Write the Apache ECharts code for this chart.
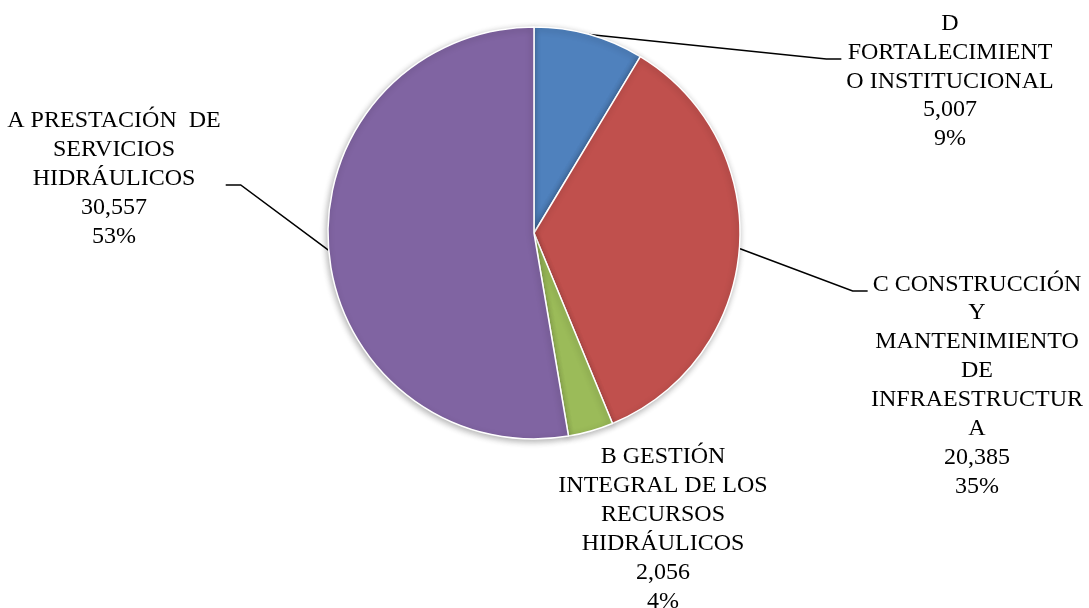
<!DOCTYPE html>
<html>
<head>
<meta charset="utf-8">
<script src="https://cdn.jsdelivr.net/npm/echarts@6/dist/echarts.min.js"></script>
<style>
html,body{margin:0;padding:0;background:#fff;}
#chart{width:1089px;height:608px;}
</style>
</head>
<body>
<div id="chart"></div>
<script>
// Categories (in drawing order, clockwise from 12 o'clock)
const categories = [
  'D FORTALECIMIENTO INSTITUCIONAL',
  'C CONSTRUCCIÓN Y MANTENIMIENTO DE INFRAESTRUCTURA',
  'B GESTIÓN INTEGRAL DE LOS RECURSOS HIDRÁULICOS',
  'A PRESTACIÓN DE SERVICIOS HIDRÁULICOS'
];
// Wrapped label text lines as shown in the chart
const labelText = [
  ['D', 'FORTALECIMIENT', 'O INSTITUCIONAL'],
  ['C CONSTRUCCIÓN', 'Y', 'MANTENIMIENTO', 'DE', 'INFRAESTRUCTUR', 'A'],
  ['B GESTIÓN', 'INTEGRAL DE LOS', 'RECURSOS', 'HIDRÁULICOS'],
  ['A PRESTACIÓN  DE', 'SERVICIOS', 'HIDRÁULICOS']
];
const values = [5007, 20385, 2056, 30557];
const colors = ['#4F81BD', '#C0504D', '#9BBB59', '#8064A2'];

// ---- layout (not data) ----
const headCount = [3, 1, 6, 5];            // lines that the leader line attaches to
const showLine = [true, true, false, true];
const headPos = [[950, 59], [977, 291], [663, 529], [114, 185]];
const tailPos = [[950, 124], [977, 400], null, null];

const total = values.reduce((a, b) => a + b, 0);
function fullLines(i) {
  return labelText[i].concat([
    values[i].toLocaleString('en-US'),
    Math.round(values[i] / total * 100) + '%'
  ]);
}

const fontCfg = {
  fontFamily: '"Liberation Serif", "Times New Roman", serif',
  fontSize: 24,
  lineHeight: 29,
  color: '#000000',
  align: 'center'
};

const chart = echarts.init(document.getElementById('chart'), null, {renderer: 'canvas'});

const headData = values.map((v, i) => ({
  name: categories[i],
  value: v,
  itemStyle: {color: colors[i]},
  labelLine: {show: showLine[i]}
}));
const tailData = values.map((v, i) => ({
  name: categories[i],
  value: v,
  label: {show: tailPos[i] !== null}
}));

chart.setOption({
  animation: false,
  backgroundColor: '#ffffff',
  series: [{
    type: 'pie',
    z: 2,
    center: [534, 233],
    radius: 206,
    startAngle: 90,
    clockwise: true,
    avoidLabelOverlap: false,
    data: headData,
    itemStyle: {
      borderColor: '#ffffff',
      borderWidth: 1.5,
      shadowBlur: 6,
      shadowColor: 'rgba(0,0,0,0.3)',
      shadowOffsetX: -1,
      shadowOffsetY: 2
    },
    label: Object.assign({
      show: true,
      position: 'outside',
      padding: [0, 5, 0, 5],
      formatter: function (p) {
        const i = p.dataIndex;
        const lines = fullLines(i).slice(0, headCount[i]).map(s => '{t|' + s + '}');
        if (showLine[i]) lines.push('{s| }');
        return lines.join('\n');
      },
      rich: {
        t: {
          fontFamily: '"Liberation Serif", "Times New Roman", serif',
          fontSize: 24, lineHeight: 29, color: '#000000'
        },
        s: {fontSize: 8, lineHeight: 12}
      }
    }, fontCfg),
    labelLine: {
      show: true,
      length: 20,
      length2: 15,
      lineStyle: {color: '#000000', width: 1.5}
    },
    labelLayout: function (params) {
      const p = headPos[params.dataIndex];
      return {x: p[0], y: p[1], align: 'center', verticalAlign: 'middle', hideOverlap: false};
    },
    emphasis: {disabled: true}
  }, {
    type: 'pie',
    z: 1,
    silent: true,
    center: [534, 233],
    radius: 206,
    startAngle: 90,
    clockwise: true,
    avoidLabelOverlap: false,
    data: tailData,
    itemStyle: {color: 'rgba(0,0,0,0)', borderWidth: 0},
    label: Object.assign({
      show: true,
      position: 'outside',
      formatter: function (p) {
        return fullLines(p.dataIndex).slice(headCount[p.dataIndex]).join('\n');
      }
    }, fontCfg),
    labelLine: {show: false},
    labelLayout: function (params) {
      const p = tailPos[params.dataIndex] || [0, 0];
      return {x: p[0], y: p[1], align: 'center', verticalAlign: 'middle', hideOverlap: false};
    },
    emphasis: {disabled: true}
  }]
});
</script>
</body>
</html>
